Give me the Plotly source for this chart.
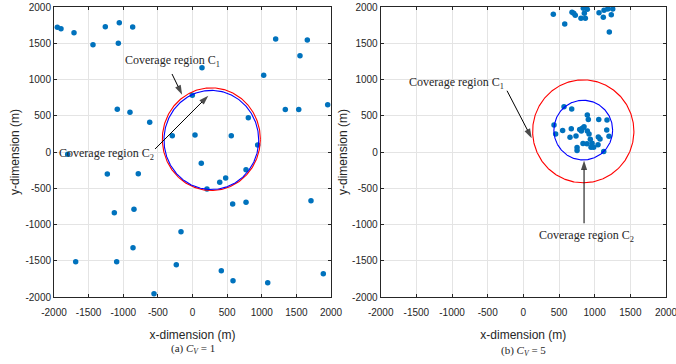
import numpy as np
import plotly.graph_objects as go

# ---------------- data ----------------
# Panel (a): C_V = 1
a_x = [-1952, -1899, -1711, -1437, -1259, -1057, -1071, -864, 137, 1201, 1658, 1552,
       1028, -1086, -903, -618, -3, -292, 36, 560, 806, 941, 1340, 1534, 1952, -1802,
       -1230, -783, 127, 773, 479, 393, 209, 580, 773, 1711, -1129, -845, -166, -859,
       -1687, -1095, -234, 416, 585, 1086, 1889, -556]
a_y = [1720, 1700, 1646, 1480, 1728, 1784, 1499, 1724, 1163, 1559, 1545, 1329,
       1058, 589, 547, 409, 782, 225, 234, 225, 473, 97, 585, 585, 652, -32,
       -303, -299, -156, -244, -359, -418, -510, -717, -694, -671, -837, -791, -1099, -1320,
       -1513, -1513, -1554, -1637, -1775, -1803, -1678, -1954]

# Panel (b): C_V = 5
b_x = [420, 580, 682, 706, 728, 808, 869, 841, 855, 897, 1061, 1121, 1131, 1183, 1233, 1253, 1205,
       570, 678, 430, 453, 551, 672, 897, 911, 1057, 1173, 790, 827, 851, 813, 897, 921,
       654, 738, 1169, 1051, 1075, 1201, 836, 892, 939, 963, 1047, 949, 986, 753, 753, 1127]
b_y = [1900, 1766, 1927, 1913, 1886, 1845, 1845, 1982, 1913, 1968, 1922, 1858, 1955, 1973, 1894, 1973, 1656,
       625, 594, 374, 250, 295, 319, 511, 447, 447, 442, 309, 327, 350, 291, 291, 250,
       203, 222, 305, 208, 181, 217, 117, 113, 176, 122, 99, 67, 67, 62, 21, 7]

# coverage circles: (center x, center y, radius)
a_c1 = (272, 177, 708)
a_c2 = (272, 166, 684)
b_c1 = (840, 285, 710)
b_c2 = (840, 302, 412)

ticks = [-2000, -1500, -1000, -500, 0, 500, 1000, 1500, 2000]
tick_labels = [str(t) for t in ticks]

# ---------------- figure ----------------
W, H = 676, 364
ML, MR, MT, MB = 54, 10, 7, 66.5
PW = W - ML - MR
PH = H - MT - MB

fig = go.Figure()
BLUE = "#0072BD"


def circle(c):
    t = np.linspace(0, 2 * np.pi, 361)
    return c[0] + c[2] * np.cos(t), c[1] + c[2] * np.sin(t)


for xs, ys, cr, cb, xa, ya in [(a_x, a_y, a_c1, a_c2, "x", "y"),
                               (b_x, b_y, b_c1, b_c2, "x2", "y2")]:
    fig.add_trace(go.Scatter(x=xs, y=ys, mode="markers", xaxis=xa, yaxis=ya,
                             marker=dict(color=BLUE, size=5.5), showlegend=False))
    cx, cy = circle(cr)
    fig.add_trace(go.Scatter(x=cx, y=cy, mode="lines", xaxis=xa, yaxis=ya,
                             line=dict(color="#ff0000", width=1.1), showlegend=False))
    cx, cy = circle(cb)
    fig.add_trace(go.Scatter(x=cx, y=cy, mode="lines", xaxis=xa, yaxis=ya,
                             line=dict(color="#0000ff", width=1.1), showlegend=False))

# arrows (tail -> head), drawn as line + arrow marker at the head
arrows = [("x", "y", -296, 1076, -150, 790),
          ("x", "y", -541, 41, 228, 777),
          ("x2", "y2", -229, 845, 117, 190),
          ("x2", "y2", 851, -983, 851, -117)]
for xa, ya, tx, ty, hx, hy in arrows:
    fig.add_trace(go.Scatter(x=[tx, hx], y=[ty, hy], mode="lines+markers", xaxis=xa, yaxis=ya,
                             line=dict(color="black", width=1),
                             marker=dict(symbol="arrow", size=[0, 10], angleref="previous",
                                         color="black", line=dict(width=0)),
                             showlegend=False, hoverinfo="skip"))

xd1 = [0, (331 - ML) / PW]
xd2 = [(380.7 - ML) / PW, 1.0]
yd = [0, 1]

axis_common = dict(range=[-2000, 2000], tickvals=ticks, ticktext=tick_labels,
                   showgrid=True, gridcolor="#e4e4e4", gridwidth=1,
                   zeroline=False, showline=True, linecolor="#262626", linewidth=1,
                   mirror="ticks", ticks="inside", ticklen=3, tickcolor="#262626",
                   tickfont=dict(family="Liberation Sans, Arial", size=10, color="#262626"),
                   fixedrange=True, automargin=False, ticklabeloverflow="allow")

title_font = dict(family="Liberation Sans, Arial", size=12, color="#262626")

fig.update_layout(
    width=W, height=H, margin=dict(l=ML, r=MR, t=MT, b=MB, autoexpand=False),
    paper_bgcolor="white", plot_bgcolor="white",
    xaxis=dict(domain=xd1, anchor="y", **axis_common, ticklabelstandoff=6,
               title=dict(text="x-dimension (m)", font=title_font, standoff=13)),
    yaxis=dict(domain=yd, anchor="x", **axis_common,
               title=dict(text="y-dimension (m)", font=title_font, standoff=3)),
    xaxis2=dict(domain=xd2, anchor="y2", **axis_common, ticklabelstandoff=6,
                title=dict(text="x-dimension (m)", font=title_font, standoff=13)),
    yaxis2=dict(domain=yd, anchor="x2", **axis_common,
                title=dict(text="y-dimension (m)", font=title_font, standoff=1)),
)

serif = dict(family="Liberation Serif, Times New Roman, serif", size=12, color="#262626")

anns = []
anns.append(dict(xref="x", yref="y", x=-289, y=1255, text="Coverage region C<sub>1</sub>",
                 showarrow=False, font=serif))
anns.append(dict(xref="x", yref="y", x=-1249, y=-28, text="Coverage region C<sub>2</sub>",
                 showarrow=False, font=serif))
anns.append(dict(xref="x2", yref="y2", x=-937, y=955, text="Coverage region C<sub>1</sub>",
                 showarrow=False, font=serif))
anns.append(dict(xref="x2", yref="y2", x=892, y=-1162, text="Coverage region C<sub>2</sub>",
                 showarrow=False, font=serif))


def paper_xy(px, py):
    return (px - ML) / PW, (H - MB - py) / PH


cap_font = dict(family="Liberation Serif, Times New Roman, serif", size=11, color="#262626")
cx_a, cy_a = paper_xy((54 + 331) / 2, 350)
cx_b, cy_b = paper_xy((380.7 + 666) / 2, 352)
anns.append(dict(xref="paper", yref="paper", x=cx_a, y=cy_a,
                 xanchor="center", yanchor="middle",
                 text="(a) <i>C</i><sub><i>V</i></sub> = 1", showarrow=False, font=cap_font))
anns.append(dict(xref="paper", yref="paper", x=cx_b, y=cy_b,
                 xanchor="center", yanchor="middle",
                 text="(b) <i>C</i><sub><i>V</i></sub> = 5", showarrow=False, font=cap_font))
fig.update_layout(annotations=anns)

fig.write_html("out.html", config={"displayModeBar": False},
               post_script="document.body.style.margin='0px';")
